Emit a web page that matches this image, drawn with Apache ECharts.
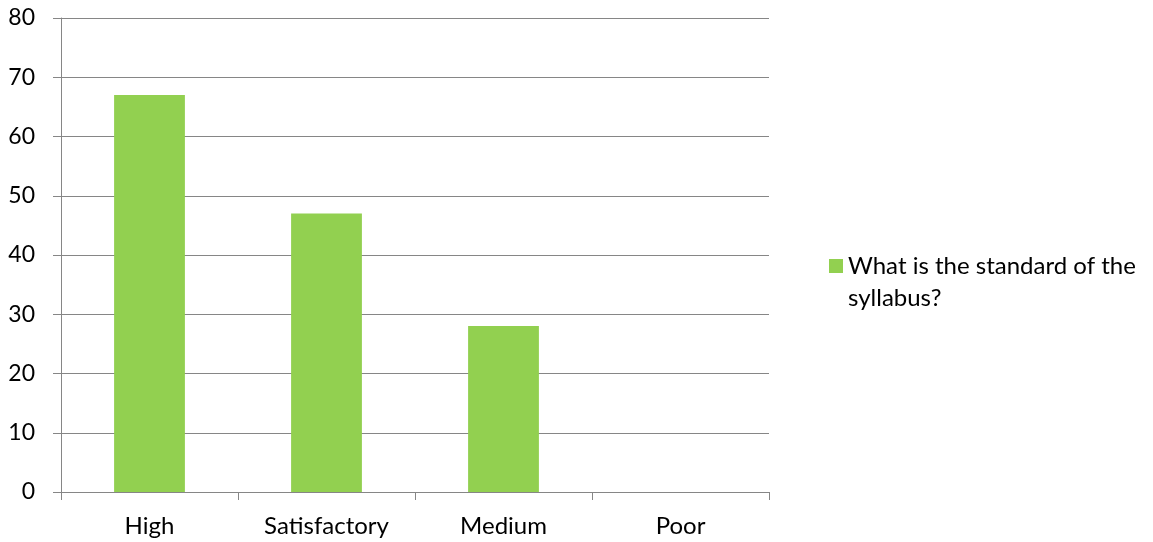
<!DOCTYPE html>
<html>
<head>
<meta charset="utf-8">
<script src="https://cdn.jsdelivr.net/npm/echarts@6/dist/echarts.min.js"></script>
<style>
  html, body { margin: 0; padding: 0; background: #fff; }
  #chart { width: 1153px; height: 542px; }
</style>
</head>
<body>
<div id="chart"></div>
<script>
// Survey responses: rating of the syllabus standard
const categories = ['High', 'Satisfactory', 'Medium', 'Poor'];
const seriesName = 'What is the standard of the syllabus?';
const responses = [67, 47, 28, 0];
const yTicks = { min: 0, max: 80, interval: 10 };

const font = 'Lato, "Open Sans", sans-serif';
const chart = echarts.init(document.getElementById('chart'), null, { renderer: 'canvas' });

// Square marker sitting at the top of a taller box (the second subpath is an
// empty point that only stretches the bounds), so it lines up with the first
// line of the wrapped legend name.
const legendMarker = 'path://M0,0H14V14H0Z M0,46L0,46';

chart.setOption({
  animation: false,
  textStyle: { fontFamily: font },
  grid: { left: 61, right: 384, top: 18, bottom: 50, containLabel: false },
  legend: {
    left: 829,
    top: 250,
    padding: 0,
    orient: 'vertical',
    itemWidth: 14,
    itemHeight: 46,
    itemGap: 7,
    icon: legendMarker,
    textStyle: {
      fontFamily: font,
      fontSize: 24,
      color: '#000',
      width: 300,
      overflow: 'break',
      lineHeight: 32
    },
    data: [seriesName]
  },
  xAxis: {
    type: 'category',
    data: categories,
    axisLine: { lineStyle: { color: '#868686', width: 1 } },
    axisTick: { show: true, length: 8, alignWithLabel: false, lineStyle: { color: '#868686' } },
    axisLabel: { color: '#000', fontSize: 24, fontFamily: font, margin: 22 },
    splitLine: { show: false }
  },
  yAxis: {
    type: 'value',
    min: yTicks.min,
    max: yTicks.max,
    interval: yTicks.interval,
    axisLine: { show: true, lineStyle: { color: '#868686', width: 1 } },
    axisTick: { show: true, length: 8, lineStyle: { color: '#868686' } },
    axisLabel: { color: '#000', fontSize: 23, fontFamily: font, margin: 26 },
    splitLine: { show: true, lineStyle: { color: '#868686', width: 1 } }
  },
  series: [{
    name: seriesName,
    type: 'bar',
    data: responses,
    barCategoryGap: '60%',
    itemStyle: { color: '#92D050' }
  }]
});
</script>
</body>
</html>
